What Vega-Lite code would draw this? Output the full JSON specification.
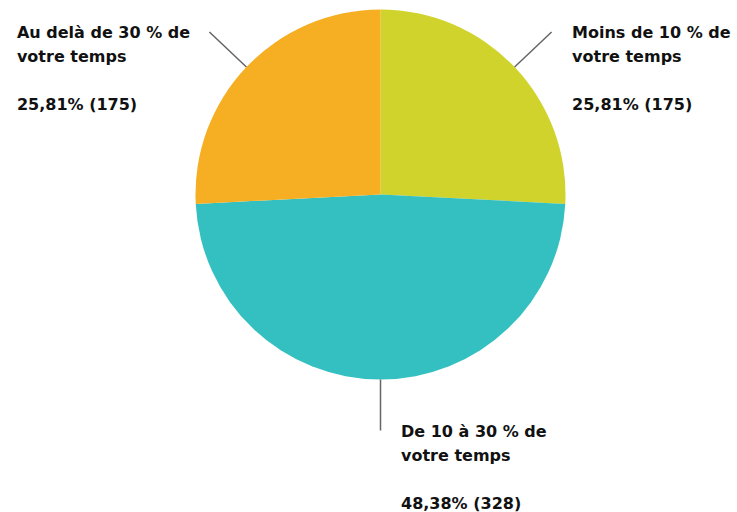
{
  "$schema": "https://vega.github.io/schema/vega-lite/v6.json",
  "width": 713,
  "height": 389,
  "autosize": {"type": "none"},
  "padding": {"left": 24, "top": 0, "right": 0, "bottom": 123},
  "background": "white",
  "config": {
    "view": {"stroke": null},
    "text": {"font": "DejaVu Sans", "fontWeight": "bold", "fontSize": 16, "lineHeight": 24, "lineBreak": "\n", "color": "#111111", "align": "left", "baseline": "top"}
  },
  "data": {
    "values": [
      {"category": "Moins de 10 % de votre temps", "name": "Moins de 10 % de\nvotre temps", "value_label": "25,81% (175)", "count": 175, "order": 1},
      {"category": "De 10 à 30 % de votre temps", "name": "De 10 à 30 % de\nvotre temps", "value_label": "48,38% (328)", "count": 328, "order": 2},
      {"category": "Au delà de 30 % de votre temps", "name": "Au delà de 30 % de\nvotre temps", "value_label": "25,81% (175)", "count": 175, "order": 3}
    ]
  },
  "encoding": {
    "theta": {"field": "count", "type": "quantitative", "stack": true},
    "order": {"field": "order", "type": "quantitative"}
  },
  "layer": [
    {
      "mark": {"type": "arc", "outerRadius": 185},
      "encoding": {
        "color": {
          "field": "category",
          "type": "nominal",
          "scale": {
            "domain": ["Moins de 10 % de votre temps", "De 10 à 30 % de votre temps", "Au delà de 30 % de votre temps"],
            "range": ["#CFD32B", "#34BFC1", "#F6AE22"]
          },
          "legend": null
        }
      }
    },
    {
      "mark": {"type": "arc", "outerRadius": 236, "innerRadius": 185, "padAngle": 3.14, "filled": false, "stroke": "#666666", "strokeWidth": 1.5}
    },
    {
      "mark": {"type": "text", "radius": 236, "dx": 20.5, "dy": -7},
      "encoding": {"text": {"condition": {"test": "datum.order === 1", "field": "name"}, "value": ""}}
    },
    {
      "mark": {"type": "text", "radius": 236, "dx": 20.5, "dy": 65},
      "encoding": {"text": {"condition": {"test": "datum.order === 1", "field": "value_label"}, "value": ""}}
    },
    {
      "mark": {"type": "text", "radius": 236, "dx": 20.5, "dy": -6.5},
      "encoding": {"text": {"condition": {"test": "datum.order === 2", "field": "name"}, "value": ""}}
    },
    {
      "mark": {"type": "text", "radius": 236, "dx": 20.5, "dy": 65.5},
      "encoding": {"text": {"condition": {"test": "datum.order === 2", "field": "value_label"}, "value": ""}}
    },
    {
      "mark": {"type": "text", "radius": 236, "dx": -192.5, "dy": -7},
      "encoding": {"text": {"condition": {"test": "datum.order === 3", "field": "name"}, "value": ""}}
    },
    {
      "mark": {"type": "text", "radius": 236, "dx": -192.5, "dy": 65},
      "encoding": {"text": {"condition": {"test": "datum.order === 3", "field": "value_label"}, "value": ""}}
    }
  ]
}
